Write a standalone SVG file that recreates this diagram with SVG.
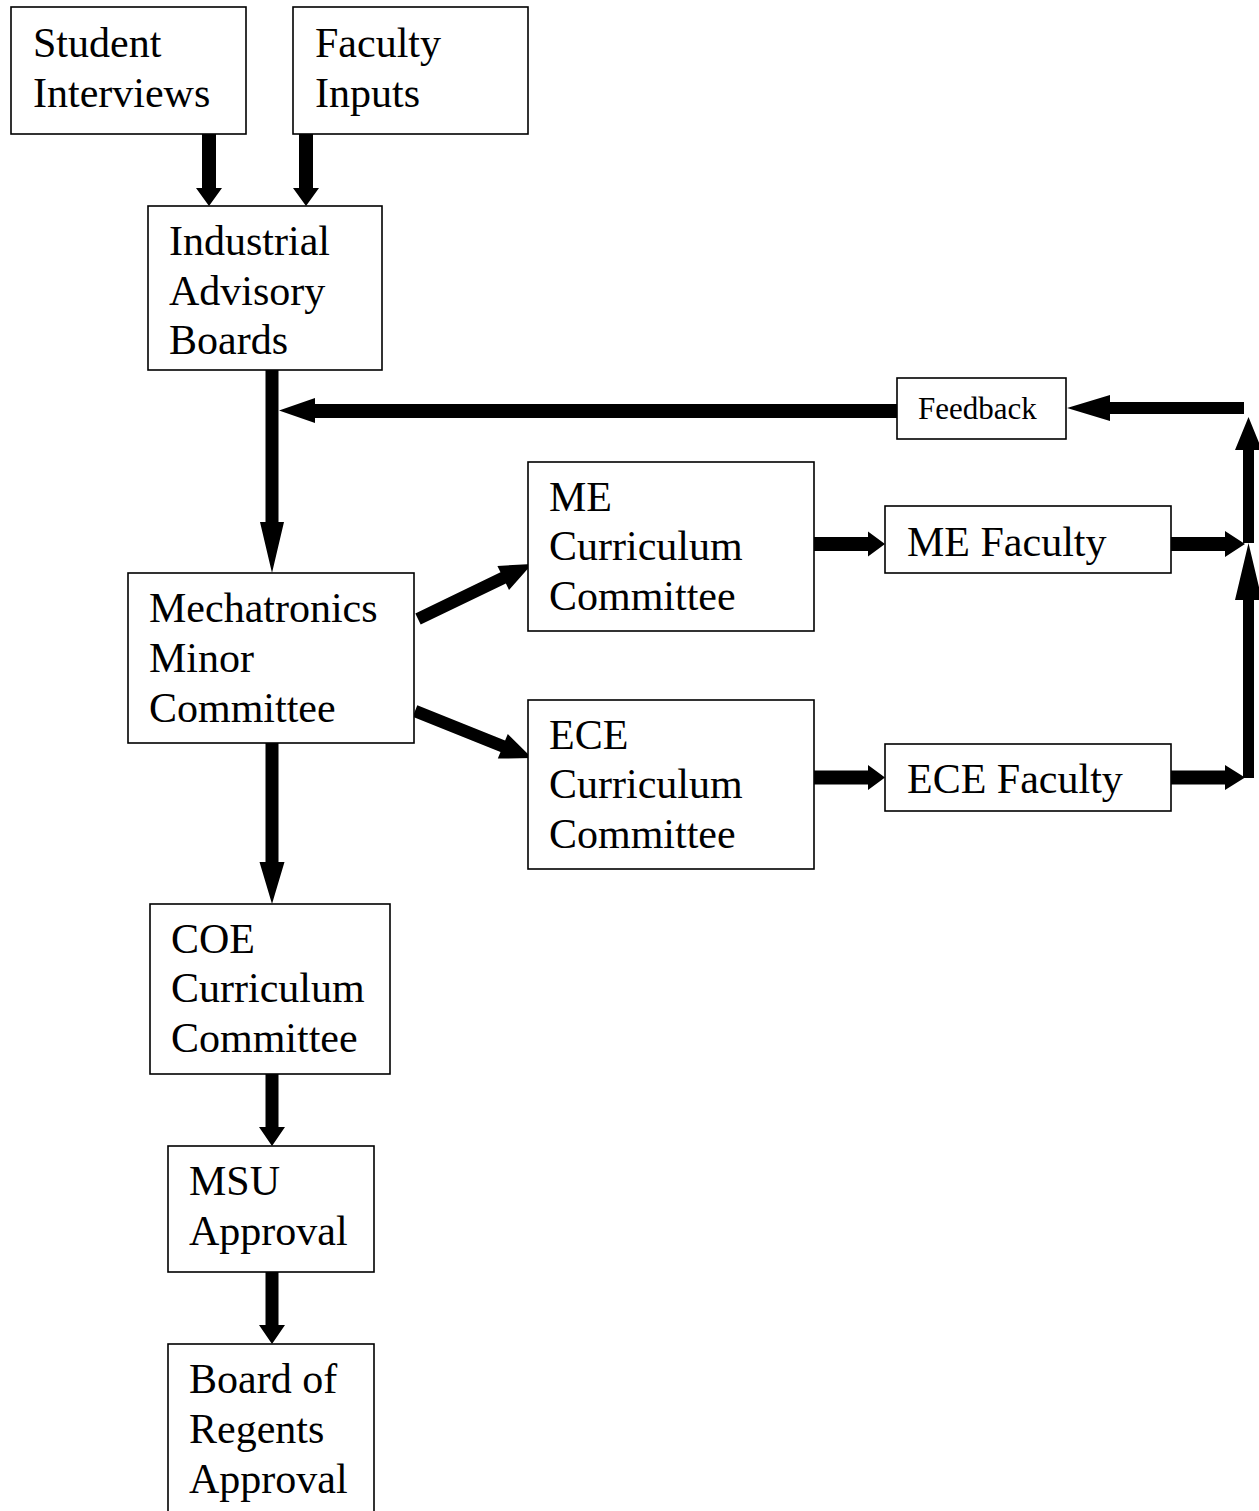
<svg xmlns="http://www.w3.org/2000/svg" width="1259" height="1511" viewBox="0 0 1259 1511">
<style>
.box{fill:#fff;stroke:#000;stroke-width:1.6}
.t{font-family:"Liberation Serif","Times New Roman",serif;font-size:42px;fill:#000}
.ts{font-family:"Liberation Serif","Times New Roman",serif;font-size:31px;fill:#000}
.arr{fill:#000;stroke:none}
</style>
<rect width="1259" height="1511" fill="#fff"/>
<g id="connectors">
<path class="arr" d="M202,134 L216,134 L216,188 L222,188 L209,206 L196,188 L202,188 Z"/>
<path class="arr" d="M299,134 L313,134 L313,188 L319,188 L306,206 L293,188 L299,188 Z"/>
<path class="arr" d="M265.5,370 L278.5,370 L278.5,522 L284,522 L272,573 L260,522 L265.5,522 Z"/>
<path class="arr" d="M265.5,743 L278.5,743 L278.5,862 L284.5,862 L272,904 L259.5,862 L265.5,862 Z"/>
<path class="arr" d="M265.5,1074 L278.5,1074 L278.5,1127 L285,1127 L272,1146 L259,1127 L265.5,1127 Z"/>
<path class="arr" d="M265.5,1272 L278.5,1272 L278.5,1325 L285,1325 L272,1344 L259,1325 L265.5,1325 Z"/>
<path class="arr" d="M814,537 L868,537 L868,531.5 L885,544 L868,556.5 L868,551 L814,551 Z"/>
<path class="arr" d="M814,770.5 L868,770.5 L868,765 L885,777.5 L868,790 L868,784.5 L814,784.5 Z"/>
<path class="arr" d="M1171,537 L1225,537 L1225,531 L1245,544 L1225,557 L1225,551 L1171,551 Z"/>
<path class="arr" d="M1171,770.5 L1225,770.5 L1225,765 L1245,777.5 L1225,790 L1225,784.5 L1171,784.5 Z"/>
<path class="arr" d="M1243,778 L1254,778 L1254,600 L1262,600 L1248.5,543 L1235,600 L1243,600 Z"/>
<path class="arr" d="M1243,543 L1254,543 L1254,450 L1262,450 L1248.5,417 L1235,450 L1243,450 Z"/>
<path class="arr" d="M1244,402 L1244,414 L1110,414 L1110,421 L1067,408 L1110,395 L1110,402 Z"/>
<path class="arr" d="M897,404 L897,418 L315,418 L315,423 L279,410.5 L315,398 L315,404 Z"/>
<path class="arr" d="M420.7,624.6 L505.9,583.5 L509,589.9 L532,564 L497.4,565.9 L500.5,572.3 L415.3,613.4 Z"/>
<path class="arr" d="M412.7,716.8 L500.5,752 L497.8,758.6 L532,758 L507.8,734 L505.1,740.5 L417.3,705.2 Z"/>
</g>
<g id="student">
<rect class="box" x="11" y="7" width="235" height="127"/>
<text class="t" x="33" y="57">Student</text>
<text class="t" x="33" y="107">Interviews</text>
</g>
<g id="faculty">
<rect class="box" x="293" y="7" width="235" height="127"/>
<text class="t" x="315" y="57">Faculty</text>
<text class="t" x="315" y="107">Inputs</text>
</g>
<g id="iab">
<rect class="box" x="148" y="206" width="234" height="164"/>
<text class="t" x="169" y="255">Industrial</text>
<text class="t" x="169" y="305">Advisory</text>
<text class="t" x="169" y="354">Boards</text>
</g>
<g id="feedback">
<rect class="box" x="897" y="378" width="169" height="61"/>
<text class="ts" x="918" y="419">Feedback</text>
</g>
<g id="mech">
<rect class="box" x="128" y="573" width="286" height="170"/>
<text class="t" x="149" y="622">Mechatronics</text>
<text class="t" x="149" y="672">Minor</text>
<text class="t" x="149" y="722">Committee</text>
</g>
<g id="mecc">
<rect class="box" x="528" y="462" width="286" height="169"/>
<text class="t" x="549" y="511">ME</text>
<text class="t" x="549" y="560">Curriculum</text>
<text class="t" x="549" y="610">Committee</text>
</g>
<g id="ececc">
<rect class="box" x="528" y="700" width="286" height="169"/>
<text class="t" x="549" y="749">ECE</text>
<text class="t" x="549" y="798">Curriculum</text>
<text class="t" x="549" y="848">Committee</text>
</g>
<g id="mefac">
<rect class="box" x="885" y="506" width="286" height="67"/>
<text class="t" x="907" y="556">ME Faculty</text>
</g>
<g id="ecefac">
<rect class="box" x="885" y="744" width="286" height="67"/>
<text class="t" x="907" y="793">ECE Faculty</text>
</g>
<g id="coe">
<rect class="box" x="150" y="904" width="240" height="170"/>
<text class="t" x="171" y="953">COE</text>
<text class="t" x="171" y="1002">Curriculum</text>
<text class="t" x="171" y="1052">Committee</text>
</g>
<g id="msu">
<rect class="box" x="168" y="1146" width="206" height="126"/>
<text class="t" x="189" y="1195">MSU</text>
<text class="t" x="189" y="1245">Approval</text>
</g>
<g id="regents">
<rect class="box" x="168" y="1344" width="206" height="180"/>
<text class="t" x="189" y="1393">Board of</text>
<text class="t" x="189" y="1443">Regents</text>
<text class="t" x="189" y="1493">Approval</text>
</g>
</svg>
